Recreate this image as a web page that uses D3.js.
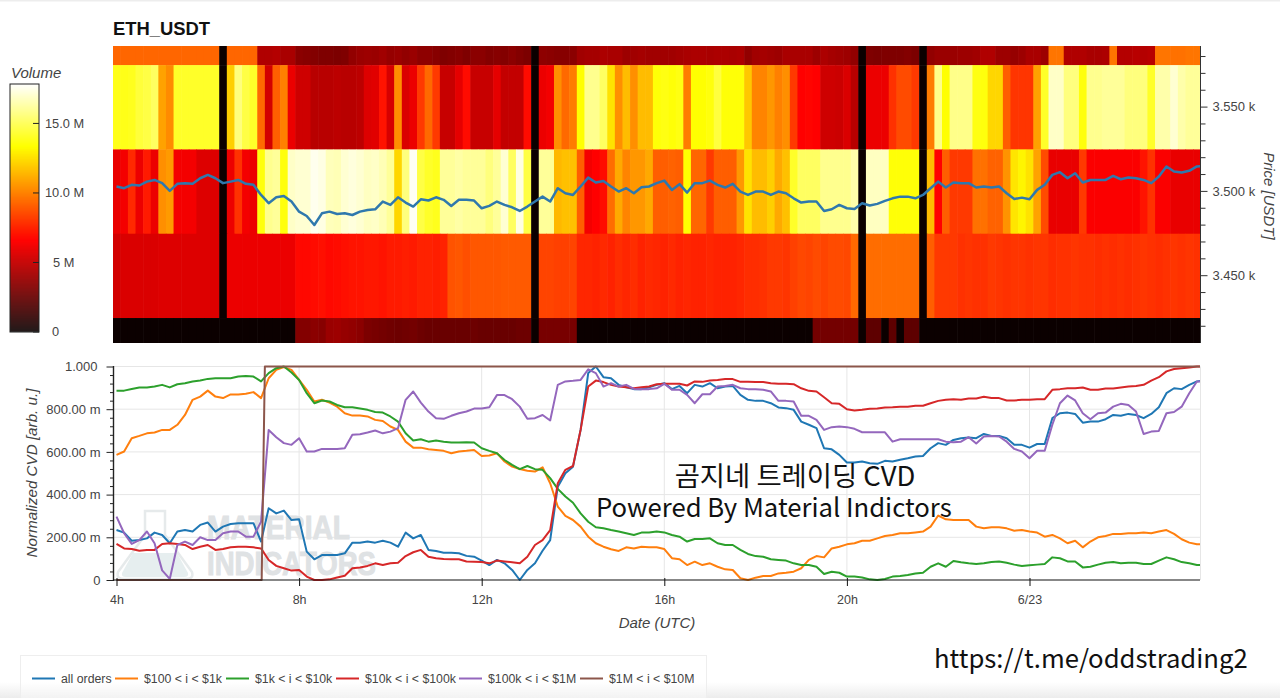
<!DOCTYPE html>
<html><head><meta charset="utf-8">
<script src="https://cdn.jsdelivr.net/npm/d3@7/dist/d3.min.js"></script>
<style>
html,body{margin:0;padding:0;background:#fff;overflow:hidden}
svg{display:block}
text{font-family:"Liberation Sans",Arial,sans-serif}
</style></head><body><div id="c"></div>
<script>
const rowA=[9.2,9.2,9.2,9.2,9.2,9.2,9.2,9.2,9.2,9.2,
9.2,9.2,9.2,9.2,0,9.2,9.2,9.2,9.2,4.4,
4.4,4.5,4.2,4.2,3.4,3.3,3.2,3.1,3.1,3.0,
3.1,3.6,3.8,3.9,3.8,4,3.7,3.8,3.6,3.8,
3.5,3.5,3.3,3.1,3.2,3.3,3.1,3.4,3.4,3.2,
3.3,3.2,3.4,3.2,3.0,0,3.5,3.4,3.3,3.3,
3.4,4,4.1,4.1,4.3,4.2,4.2,3.9,4,4.1,
4,4,4,4,4.1,4.2,4.3,4.3,4.2,4.3,
4.3,4.2,4.3,3.6,4,4.1,4,3.9,4.2,4.2,
4.2,4.2,3.9,4.3,4.1,4,3.9,3.6,0,3.1,
3,3.1,3.1,3.1,3.2,3,0,3.6,3.8,3.8,
3.8,3.9,3.9,4,4.4,4.4,3.9,3.9,3.7,3.9,
4.2,4.2,3.9,9.6,9.6,4.4,4.4,4.4,4.2,4.2,
4.3,9.6,4.5,4.5,4.6,4.5,4.6,9.6,9.6,9.5,
9.5,9.6,9.6];
const rowB=[13.7,13.7,13.8,14.3,14.5,15,10.8,10.2,14,14,
14,14,14,14,0,12,15.5,14.5,14,9.3,
5.3,9,9.9,6,5.2,5.2,4.6,4.6,4.6,4.7,
4.6,4.6,4.7,5.6,5.7,7,5.4,10.3,5.5,6,
8,9.3,8,5,5,5.8,6.8,5,5,5,
5.8,4.9,4.9,4.9,6.8,0,6,6.2,10.3,9.3,
9.8,13.3,15.8,15.8,15,12.5,10.3,11.5,10.3,11.5,
11.5,13.4,13.6,13.4,13.6,9.8,13.3,13.3,13.5,14.4,
13.4,13.4,13.4,11.8,10,10,10.5,9.9,10.3,8,
6.5,6.6,6.5,5.2,5.2,5.1,5.5,4.6,0,6,
6,6,7.8,8.5,8.5,8,0,9.8,15.7,13.3,
15.7,15.7,15.7,13.6,13.5,12.2,12.2,9,7.9,7.9,
7.9,10.8,14,16.8,16.8,15.5,15.5,13.5,15.8,15.8,
16,16,16,15.5,15.5,15.5,14,16.3,16.3,17,
16.3,16,16];
const rowC=[5.9,6.2,7.6,6,7.2,6,10.3,10.6,6.2,6.2,
6.2,5.6,5.6,5.6,0,6,7.8,6.2,6,13.5,
15.8,16,13.5,16.8,17,17,17.5,17.3,16.6,16.5,
17,17.2,17,16.7,16.8,16.5,16,12.2,15.5,17.6,
14.5,14,13.8,16,16,16.2,16,16,16,15.5,
16,17,15,17.3,14.5,0,16,16,11.4,11.6,
11.6,9,6.2,6.5,6.8,9.4,11,10,10.5,10.5,
11,9,9,9.1,9,13.3,9.2,9.2,8,9,
9,9,10.5,12.5,11.5,11.5,12,11,11.6,14,
15,15,15,15.8,15.8,15.8,15.8,16.3,0,16.7,
16.7,16.7,13.4,13.4,13.4,13.4,0,11.5,6.5,9,
8,8,8,9.5,9.5,9.1,9.1,10.4,12.6,13,
12.5,10.8,8.5,5.9,5.9,5.9,5.9,8,6.4,6.4,
6.4,6.4,6.4,6.4,6.4,7,7.8,6.4,6.4,5.9,
5.9,5.9,5.9];
const rowD=[5.3,5.5,5.5,5.5,5.5,5.5,5.6,5.6,5.6,5.6,
5.6,5.6,5.6,5.6,0,6,6,6,6,6,
6,6,6,6,6.7,6.7,6.8,6.9,6.7,6.8,
6.9,7,7,7.1,7.1,7,7.2,7.2,7.3,7.2,
7.4,7.4,7.3,7.4,8.7,8.8,8.6,8.8,8.8,8.8,
8.8,8.9,8.9,8.9,8.9,0,8.3,8.3,8.2,8.2,
8.3,7.5,7.5,7.4,7.6,7.4,7.7,7.5,7.7,7.4,
7.6,7.5,7.4,7.6,7.4,7.5,7.4,7.4,7.5,7.4,
7.4,7.4,7.5,7.7,7.7,7.8,8,8,7.9,8.2,
8.4,8.3,8.5,8.3,8.5,8.5,8.4,9.3,0,9.4,
9.4,9.4,9.4,9.4,9.4,9.4,0,9,8,8,
8,7.8,7.9,7.8,7.8,8,7.9,7.8,7.9,7.9,
7.8,7.9,7.9,7.7,7.8,7.8,7.9,7.8,7.8,7.7,
7.8,7.7,7.8,7.7,7.8,7.9,7.8,7.7,7.8,7.9,
7.8,7.9,7.8];
const rowE=[0,0,0,0,0,0,0,0,0,0,
0,0,0,0,0,0,0,0,0,0,
0,0,0,0,3.2,3.2,3.4,3.3,3.8,3.9,
3.7,3.6,3.4,3,2.9,2.8,2.7,2.6,2.7,2.8,
2.6,2.5,2.5,2.5,2.5,2.5,2.5,2.6,2.5,2.5,
2.5,2.5,2.5,2.6,2.6,0,2.9,2.9,2.9,2.9,
2.9,0,0,0,0,0,0,0,0,0,
0,0,0,0,0,0,0,0,0,0,
0,0,0,0,0,0,0,0,0,0,
0,0,2.8,2.8,2.8,2.8,2.8,2.8,0,2.2,
2.2,0,2.2,0,2.2,2.2,0,0,0,0,
0,0,0,0,0,0,0,0,0,0,
0,0,0,0,0,0,0,0,0,0,
0,0,0,0,0,0,0,0,0,0,
0,0,0];
const binLows=[3574.6,3524.6,3474.6,3424.6,3374.6];
const price=[3502.6,3501.6,3503.6,3503.2,3505.5,3506.5,3504.6,3500,3504.2,3504.6,
3504.2,3507.5,3509.5,3507.5,3504.6,3505.5,3506.5,3504.2,3503.6,3497.6,
3492.7,3496.2,3497,3493.7,3487.7,3485.1,3479.8,3486.7,3487.7,3486.3,
3486.7,3485.7,3487.7,3488.7,3489.1,3493.7,3491.7,3496.2,3493.1,3490.7,
3495,3494.3,3496.2,3494.7,3491.1,3494.7,3494.7,3494.3,3489.7,3491.1,
3493.7,3491.7,3490.3,3488.1,3490.7,3493.7,3496.6,3493.7,3501.6,3498.6,
3497.6,3502.6,3507.9,3505,3505.9,3502.6,3499.6,3501.6,3498.6,3502.2,
3502.6,3504.6,3506.1,3500.6,3504,3499,3504.6,3504.6,3506.1,3503.6,
3502,3504.2,3499.6,3497.6,3499.6,3499.6,3497.6,3499.6,3498.6,3495.6,
3493.1,3493.7,3493.7,3488.1,3489.1,3491.7,3489.7,3489.3,3492.7,3491.3,
3492.3,3494.1,3495.6,3496.6,3496.6,3495.6,3497.6,3501.6,3505.5,3502,
3505,3504.6,3504.6,3502,3502.6,3502,3502.6,3498.6,3495.2,3496,
3495,3500.6,3503.6,3509.5,3511.1,3507.5,3510.5,3505,3506.5,3506.5,
3506.5,3508.9,3506.9,3507.9,3507.5,3506.5,3504.6,3508.5,3514.5,3511.5,
3510.9,3511.9,3514.5,3514.8];
const allOrders=[234,222,184,187,195,222,211,172,227,234,
227,258,269,227,250,262,266,266,266,180,
336,312,325,281,284,133,97,117,117,117,
125,175,175,180,175,184,175,156,222,195,
211,141,136,128,128,125,113,109,91,70,
94,78,47,0,47,78,137,187,437,500,
531,703,969,1000,950,945,914,903,894,894,
903,914,922,894,909,875,914,906,922,898,
906,909,867,844,839,839,828,808,805,797,
742,727,711,617,612,586,550,550,555,547,
544,558,555,563,570,578,581,617,641,633,
656,664,667,664,684,675,675,664,633,633,
620,637,637,758,781,784,778,737,742,742,
753,773,769,778,773,758,778,809,875,898,
894,914,930,935];
const band100=[586,602,664,675,687,691,703,703,727,773,
844,859,887,859,852,869,869,872,880,852,
945,984,997,984,937,891,836,844,831,812,
781,770,770,766,750,745,719,703,648,620,
620,612,609,605,594,602,605,609,581,583,
594,555,531,520,512,508,528,453,344,300,
281,250,203,172,156,144,136,153,148,156,
153,153,145,102,97,70,86,70,78,62,
50,47,8,0,11,19,19,31,34,39,
55,94,112,106,148,156,167,172,184,184,
195,206,211,219,219,223,227,250,302,284,
281,281,281,250,242,247,247,242,231,234,
227,222,203,211,195,172,184,153,180,200,
206,216,216,219,219,222,219,227,234,216,
191,175,167,167];
const band1k=[886,887,895,902,902,906,914,902,917,922,
930,934,942,945,945,945,953,956,953,930,
969,992,1000,972,937,875,828,841,836,820,
809,809,803,797,787,784,766,742,687,653,
659,648,653,648,644,644,645,644,617,605,
594,562,539,519,534,519,516,477,427,391,
362,312,273,247,242,234,227,219,211,222,
222,227,223,211,203,180,192,192,195,172,
164,164,141,122,112,109,97,94,91,78,
70,70,62,28,39,34,16,16,12,3,
0,5,16,19,23,30,34,62,78,62,
89,83,78,75,78,84,87,81,72,66,
69,72,75,106,102,87,87,59,62,72,
81,84,78,81,81,75,75,91,106,97,
84,78,70,70];
const band10k=[169,148,145,137,141,141,169,172,169,164,
145,156,164,141,145,153,156,156,153,148,
94,66,55,44,47,16,0,0,3,12,
20,55,59,66,78,70,78,81,112,130,
141,109,102,98,97,97,87,86,84,78,
91,87,83,78,109,164,187,234,453,516,
534,703,906,934,927,914,906,903,898,903,
906,917,919,919,919,911,930,928,934,937,
941,941,928,928,927,927,922,919,919,917,
898,886,883,856,828,825,800,794,797,802,
803,808,809,812,812,816,816,828,839,844,
847,844,850,850,858,852,852,841,841,844,
844,847,847,891,894,898,898,902,891,891,
897,897,902,906,909,914,934,950,977,988,
992,995,1000,1000];
const band100k=[297,219,169,187,227,172,45,5,164,180,
164,200,187,187,219,227,227,203,203,273,
703,669,641,633,664,602,602,614,614,614,
617,680,683,691,700,687,695,711,844,883,
831,789,758,755,769,781,789,803,803,809,
866,866,847,812,755,758,773,747,914,930,
933,937,987,969,906,922,906,914,895,894,
894,898,919,891,891,867,828,870,870,906,
909,914,898,894,894,891,883,839,839,836,
769,769,750,703,716,719,716,708,692,692,
692,692,648,659,659,659,659,659,659,648,
645,648,669,639,672,675,672,648,614,602,
570,605,605,727,828,864,841,781,753,781,
784,812,825,820,789,684,695,698,781,787,
812,875,930,930];
const band1mTimes=[4,7.18,7.25,28];
const band1m=[0,0,1000,1000];
const seriesNames=["all orders","$100 < i < $1k","$1k < i < $10k","$10k < i < $100k","$100k < i < $1M","$1M < i < $10M"];
const seriesColors=["#1f77b4","#ff7f0e","#2ca02c","#d62728","#9467bd","#8c564b"];
const timeTicks=[4,8,12,16,20,24];
const timeLabels=["4h","8h","12h","16h","20h","6/23"];
const cvdMajor=[0,200,400,600,800,1000];
const cvdLabels=["0","200.00 m","400.00 m","600.00 m","800.00 m","1.000"];
const priceMajor=[3450,3500,3550];
const priceLabels=["3.450 k","3.500 k","3.550 k"];
const volTicks=[0,5,10,15];
const volLabels=["0","5 M","10.0 M","15.0 M"];
const volMax=17.8;

const W=1280,H=698;
const svg=d3.select("#c").append("svg").attr("width",W).attr("height",H);
const defs=svg.append("defs");
const lg=defs.append("linearGradient").attr("id","fade").attr("x1",0).attr("x2",0).attr("y1",0).attr("y2",1);
lg.append("stop").attr("offset","0").attr("stop-color","#fff");
lg.append("stop").attr("offset","1").attr("stop-color","#ececec");
svg.append("rect").attr("x",0).attr("y",0).attr("width",W).attr("height",1.5).attr("fill","#ededed");
svg.append("rect").attr("x",0).attr("y",682).attr("width",W).attr("height",16).attr("fill","url(#fade)");

const L=113,R=1200;
const x=d3.scaleLinear().domain([4,24]).range([116.5,1029.5]);
const yP=d3.scaleLinear().domain([3450,3550]).range([275.2,106.6]);
const yC=d3.scaleLinear().domain([0,1000]).range([580,366.5]);
const hot=d3.scaleLinear().domain([0,.365*volMax,.746*volMax,volMax])
  .range(["#0b0000","#ff0000","#ffff00","#ffffff"]).clamp(true);
const times=d3.range(144).map(i=>4+i/6);

defs.append("clipPath").attr("id","hc").append("rect").attr("x",L).attr("y",46).attr("width",R-L).attr("height",297);
defs.append("clipPath").attr("id","cc").append("rect").attr("x",L).attr("y",360).attr("width",R-L).attr("height",224);

// title
svg.append("text").attr("x",113).attr("y",35).attr("font-size",18.4).attr("font-weight","bold").attr("fill","#111").text("ETH_USDT");

// heat map
const heat=svg.append("g").attr("clip-path","url(#hc)");
[rowA,rowB,rowC,rowD,rowE].forEach((row,k)=>{
  heat.append("g").selectAll("rect").data(row).join("rect")
    .attr("x",(d,i)=>x(times[i]-1/12))
    .attr("width",(d,i)=>x(times[i]+1/12)-x(times[i]-1/12)+.6)
    .attr("y",yP(binLows[k]+50))
    .attr("height",yP(binLows[k])-yP(binLows[k]+50)+.4)
    .attr("fill",d=>hot(d));
});
const lineP=d3.line().x((d,i)=>x(times[i])).y(d=>yP(d));
heat.append("path").datum(price).attr("d",lineP).attr("fill","none").attr("stroke","#2f78ad").attr("stroke-width",2.5).attr("stroke-linejoin","round");

// price axis
const axP=svg.append("g").attr("transform",`translate(${R+.5},0)`);
axP.append("line").attr("y1",46).attr("y2",343).attr("stroke","#333");
const priceMinor=d3.range(3420,3590,10).filter(v=>!priceMajor.includes(v));
axP.append("g").call(d3.axisRight(yP).tickValues(priceMinor).tickSize(5).tickFormat(""))
  .call(g=>g.select(".domain").remove()).call(g=>g.selectAll("line").attr("stroke","#333"));
axP.append("g").call(d3.axisRight(yP).tickValues(priceMajor).tickSize(7).tickPadding(5).tickFormat((d,i)=>priceLabels[i]))
  .call(g=>g.select(".domain").remove()).call(g=>g.selectAll("line").attr("stroke","#333"))
  .call(g=>g.selectAll("text").attr("font-size",13).attr("fill","#444").attr("font-family","Liberation Sans"));
svg.append("text").attr("transform","translate(1264,196) rotate(90)").attr("text-anchor","middle")
  .attr("font-size",15).attr("font-style","italic").attr("fill","#444").text("Price [USDT]");

// colour bar
const yV=d3.scaleLinear().domain([0,volMax]).range([331.5,84]);
svg.append("text").attr("x",11).attr("y",78).attr("font-size",15).attr("font-style","italic").attr("fill","#444").text("Volume");
svg.append("g").selectAll("rect").data(d3.range(0,volMax,volMax/248)).join("rect")
  .attr("x",10).attr("width",29).attr("y",d=>yV(d)-1).attr("height",1.3).attr("fill",d=>hot(d));
svg.append("rect").attr("x",10).attr("y",84).attr("width",29).attr("height",248).attr("fill","none").attr("stroke","#222");
const volX={0:52,5:53,10:45,15:45};
svg.append("g").attr("transform","translate(39,0)")
  .call(d3.axisRight(yV).tickValues(volTicks).tickSize(-6).tickFormat((d,i)=>volLabels[i]))
  .call(g=>g.select(".domain").remove())
  .call(g=>g.selectAll("line").attr("stroke","#222"))
  .call(g=>g.selectAll("text").attr("font-size",12.8).attr("fill","#444").attr("font-family","Liberation Sans").attr("x",d=>volX[d]-39));

// CVD panel : grid
const grid=svg.append("g").attr("stroke","#e6e6e6").attr("stroke-width",1);
grid.selectAll(".h").data(cvdMajor.slice(1)).join("line").attr("x1",L).attr("x2",R).attr("y1",d=>yC(d)).attr("y2",d=>yC(d));
grid.selectAll(".v").data(timeTicks.slice(1)).join("line").attr("x1",d=>x(d)).attr("x2",d=>x(d)).attr("y1",366.5).attr("y2",580);
grid.append("line").attr("x1",R+.5).attr("x2",R+.5).attr("y1",366.5).attr("y2",580);

// watermark
const wm=svg.append("g");
wm.append("path").attr("d","M145 511 H165 V535 L192 572 Q194 579 186 579 H124 Q116 579 118 572 L145 535 Z")
  .attr("fill","none").attr("stroke","#e6eaeb").attr("stroke-width",2.5);
wm.append("path").attr("d","M133 553 H177 L188 573 Q189 577 184 577 H126 Q121 577 122 573 Z").attr("fill","#e6eeef");
wm.append("text").attr("x",207).attr("y",539).attr("font-size",33).attr("font-weight","bold").attr("fill","#dfe2e4").attr("stroke","#dfe2e4").attr("stroke-width",1)
  .attr("textLength",143).attr("lengthAdjust","spacingAndGlyphs").text("MATERIAL");
wm.append("text").attr("x",207).attr("y",575).attr("font-size",33).attr("font-weight","bold").attr("fill","#dfe2e4").attr("stroke","#dfe2e4").attr("stroke-width",1)
  .attr("textLength",169).attr("lengthAdjust","spacingAndGlyphs").text("INDICATORS");

// CVD lines
const lineC=d3.line().x((d,i)=>x(times[i])).y(d=>yC(d));
const plot=svg.append("g").attr("clip-path","url(#cc)").attr("fill","none").attr("stroke-width",2).attr("stroke-linejoin","round");
[allOrders,band100,band1k,band10k,band100k].forEach((s,k)=>{
  plot.append("path").datum(s).attr("d",lineC).attr("stroke",seriesColors[k]);
});
plot.append("path").datum(band1m).attr("d",d3.line().x((d,i)=>x(band1mTimes[i])).y(d=>yC(d))).attr("stroke",seriesColors[5]);

// CVD axes
const axL=svg.append("g").attr("transform",`translate(${L+.5},0)`);
axL.append("line").attr("y1",366).attr("y2",581).attr("stroke","#222").attr("stroke-width",1.4);
const cvdMinor=d3.range(0,1001,40).filter(v=>!cvdMajor.includes(v));
axL.append("g").call(d3.axisLeft(yC).tickValues(cvdMinor).tickSize(3.5).tickFormat(""))
  .call(g=>g.select(".domain").remove()).call(g=>g.selectAll("line").attr("stroke","#222"));
axL.append("g").call(d3.axisLeft(yC).tickValues(cvdMajor).tickSize(7).tickPadding(6).tickFormat((d,i)=>cvdLabels[i]))
  .call(g=>g.select(".domain").remove()).call(g=>g.selectAll("line").attr("stroke","#222"))
  .call(g=>g.selectAll("text").attr("font-size",13).attr("fill","#444").attr("font-family","Liberation Sans").attr("dx",d=>d===1000?-3:0));
svg.append("text").attr("transform","translate(37,473) rotate(-90)").attr("text-anchor","middle")
  .attr("font-size",15.2).attr("font-style","italic").attr("fill","#444").text("Normalized CVD [arb. u.]");

const axB=svg.append("g").attr("transform","translate(0,580)");
axB.append("line").attr("x1",L).attr("x2",R).attr("stroke","#111").attr("stroke-width",1.2);
axB.append("g").call(d3.axisBottom(x).tickValues(timeTicks).tickSize(6).tickPadding(9).tickFormat((d,i)=>timeLabels[i]))
  .call(g=>g.select(".domain").remove())
  .call(g=>g.selectAll("line").attr("stroke","#111").attr("y1",-2))
  .call(g=>g.selectAll("text").attr("font-size",12.5).attr("fill","#444").attr("font-family","Liberation Sans"));
svg.append("text").attr("x",657).attr("y",628).attr("text-anchor","middle").attr("font-size",15)
  .attr("font-style","italic").attr("fill","#444").text("Date (UTC)");

// annotation
const kr='"Noto Sans CJK KR","Noto Sans",sans-serif';
svg.append("text").attr("x",795).attr("y",486).attr("text-anchor","middle").attr("font-size",27.4).attr("fill","#111").style("font-family",kr).text("곰지네 트레이딩 CVD");
svg.append("text").attr("x",596).attr("y",517).attr("font-size",25.7).attr("fill","#111").style("font-family",kr).text("Powered By Material Indictors");
svg.append("text").attr("x",934).attr("y",668).attr("font-size",25.7).attr("fill","#111").style("font-family",kr).text("https://t.me/oddstrading2");

// legend
svg.append("rect").attr("x",20.5).attr("y",655.5).attr("width",686).attr("height",50).attr("fill","#fff").attr("fill-opacity",.35).attr("stroke","#eeeeee");
const legX=[32,115,226,336,459,580];
seriesNames.forEach((n,k)=>{
  svg.append("line").attr("x1",legX[k]).attr("x2",legX[k]+23).attr("y1",678.5).attr("y2",678.5).attr("stroke",seriesColors[k]).attr("stroke-width",2);
  svg.append("text").attr("x",legX[k]+29).attr("y",683).attr("font-size",12.3).attr("fill","#444").text(n);
});
</script></body></html>
